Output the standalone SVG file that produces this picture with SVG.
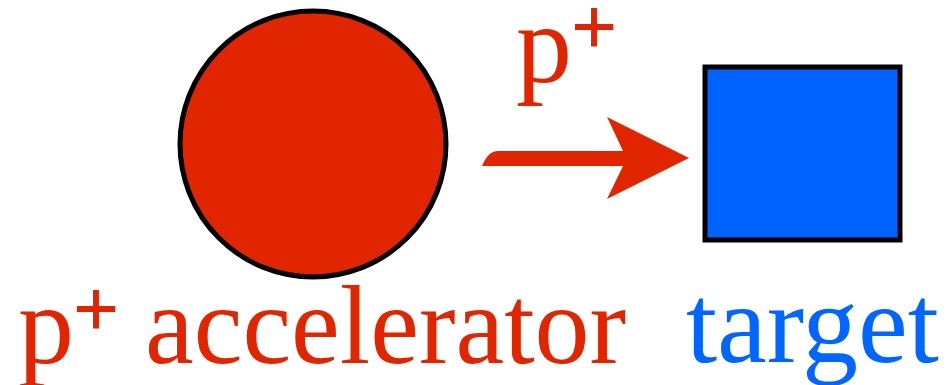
<svg xmlns="http://www.w3.org/2000/svg" width="952" height="385" viewBox="0 0 952 385">
<style>
.red{fill:#e12500}
.blue{fill:#0062ff}
.lbl{font-family:"Liberation Serif","Times New Roman",serif;font-size:112px}
.sup{font-size:78px;stroke:#e12500;stroke-width:2}
</style>
<rect width="952" height="385" fill="#ffffff"/>
<g id="accelerator">
<circle cx="313" cy="144" r="133" class="red" stroke="#000" stroke-width="5"/>
<text class="lbl red" y="363"><tspan x="18">p</tspan><tspan class="sup" x="74" y="335">+</tspan><tspan x="145" y="363" textLength="481" lengthAdjust="spacingAndGlyphs">accelerator</tspan></text>
</g>
<g id="target">
<rect x="705" y="67" width="195" height="173" class="blue" stroke="#000" stroke-width="5"/>
<text class="lbl" x="686" y="362" fill="#0066ff">target</text>
</g>
<g id="connectors">
<path d="M482,166 Q488,151 498,151 L623,151 L607,117 L689,158 L607,199 L623,166 Z" class="red"/>
<text class="lbl red" y="82"><tspan x="516">p</tspan><tspan class="sup" x="572" y="53">+</tspan></text>
</g>
</svg>
